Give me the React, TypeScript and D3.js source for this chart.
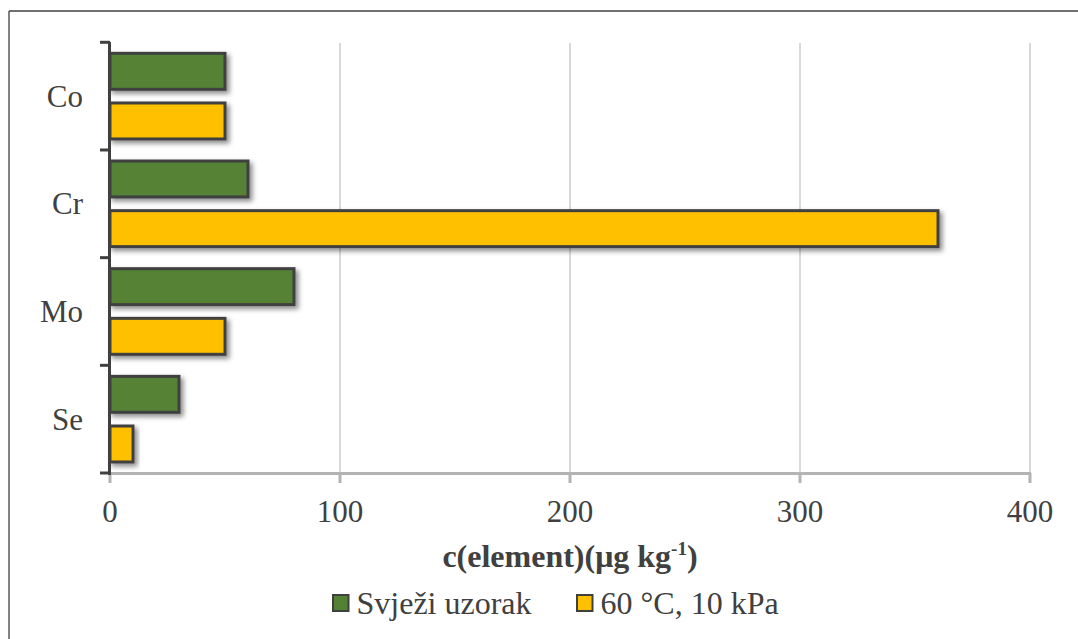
import React from "react";
import * as d3 from "d3";

const categories = ["Co", "Cr", "Mo", "Se"];
const seriesNames = ["Svježi uzorak", "60 °C, 10 kPa"];
const freshValues = [50, 60, 80, 30];
const driedValues = [50, 360, 50, 10];
const xTicks = [0, 100, 200, 300, 400];
const seriesColors = ["#548235", "#FFC000"];

const W = 1078;
const H = 639;
const FONT = "Liberation Serif";
const TEXT = "#404040";

export default function App() {
  const x = d3.scaleLinear().domain([0, 400]).range([110, 1030]);
  const y = d3.scaleBand<string>().domain(categories).range([42.3, 473]).paddingInner(0).paddingOuter(0);
  const inner = d3
    .scaleBand<string>()
    .domain(seriesNames)
    .range([0, y.bandwidth()])
    .paddingInner(0.276)
    .paddingOuter(0.222);
  const series = [freshValues, driedValues];
  const bounds = [...categories.map((c) => y(c) as number), 473];

  return (
    <svg width={W} height={H} style={{ position: "absolute", left: 0, top: 0 }}>
      <defs>
        <filter id="sh" x="-20%" y="-30%" width="150%" height="180%">
          <feDropShadow dx="3" dy="3" stdDeviation="2.5" floodColor="#000" floodOpacity="0.45" />
        </filter>
      </defs>
      <rect x={0} y={0} width={W} height={H} fill="#fff" />
      <line x1={9} y1={11} x2={W} y2={11} stroke="#404040" strokeWidth={1.3} />
      <line x1={9} y1={11} x2={9} y2={H} stroke="#404040" strokeWidth={1.3} />

      {xTicks.slice(1).map((t) => (
        <line key={t} x1={x(t)} x2={x(t)} y1={43} y2={473} stroke="#d9d9d9" strokeWidth={2} />
      ))}

      <line x1={110} x2={x(400) + 1} y1={473.5} y2={473.5} stroke="#b3b3b3" strokeWidth={3} />
      {xTicks.map((t) => (
        <line key={"xt" + t} x1={x(t)} x2={x(t)} y1={473} y2={483} stroke="#b3b3b3" strokeWidth={3} />
      ))}
      {xTicks.map((t) => (
        <text key={"xl" + t} x={x(t)} y={522} textAnchor="middle" fontFamily={FONT} style={{ fontFamily: FONT }} fontSize={31} fill={TEXT}>
          {String(t)}
        </text>
      ))}

      {categories.map((c, i) =>
        seriesNames.map((s, j) => {
          const v = series[j][i];
          const yy = (y(c) as number) + (inner(s) as number);
          return (
            <rect
              key={c + s}
              x={x(0)}
              y={yy}
              width={x(v) - x(0)}
              height={inner.bandwidth()}
              fill={seriesColors[j]}
              stroke="#404040"
              strokeWidth={3}
              filter="url(#sh)"
            />
          );
        })
      )}

      <line x1={109.5} x2={109.5} y1={42} y2={475} stroke="#404040" strokeWidth={3} />
      {bounds.map((b, i) => (
        <line key={"yt" + i} x1={100} x2={110} y1={b} y2={b} stroke="#404040" strokeWidth={3} />
      ))}
      {categories.map((c) => (
        <text
          key={"yl" + c}
          x={83}
          y={(y(c) as number) + y.bandwidth() / 2 + 10.5}
          textAnchor="end"
          fontFamily={FONT}
          style={{ fontFamily: FONT }}
          fontSize={31}
          fill={TEXT}
        >
          {c}
        </text>
      ))}

      <text x={570} y={567} textAnchor="middle" fontFamily={FONT} style={{ fontFamily: FONT }} fontSize={32} fontWeight="bold" fill={TEXT}>
        c(element)(μg kg
        <tspan fontSize={19} dy={-12}>-1</tspan>
        <tspan dy={12}>)</tspan>
      </text>

      {seriesNames.map((s, j) => {
        const lx = [332, 576][j];
        return (
          <g key={"lg" + s}>
            <rect x={lx + 1} y={595} width={15.5} height={16} fill={seriesColors[j]} stroke="#404040" strokeWidth={2} />
            <text x={lx + 24.5} y={614} fontFamily={FONT} style={{ fontFamily: FONT }} fontSize={32} fill={TEXT}>
              {s}
            </text>
          </g>
        );
      })}
    </svg>
  );
}
